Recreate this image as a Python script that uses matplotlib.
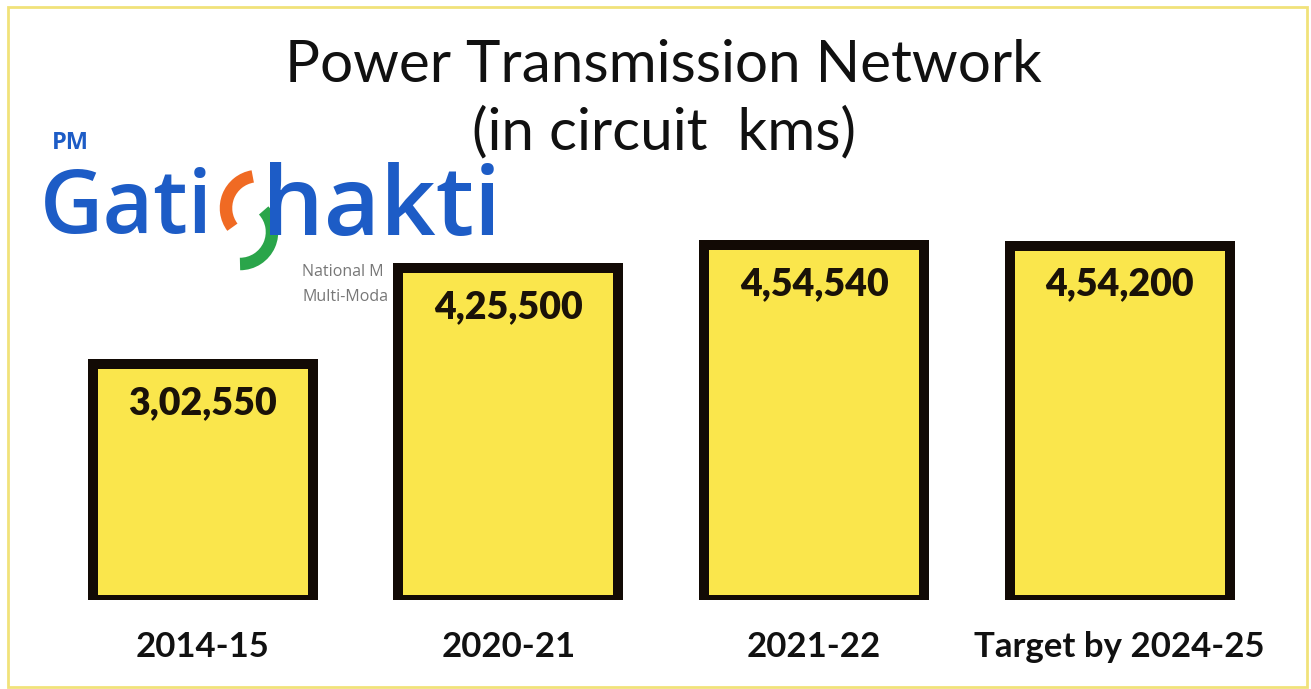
import matplotlib.pyplot as plt
from matplotlib.patches import Rectangle, Arc

years = ["2014-15", "2020-21", "2021-22", "Target by 2024-25"]
circuit_kms = [302550, 425500, 454540, 454200]
value_labels = ["3,02,550", "4,25,500", "4,54,540", "4,54,200"]

W, H = 1311, 689
fig = plt.figure(figsize=(W / 100, H / 100), dpi=100)
fig.patch.set_facecolor("white")

# axes placed so bars land where they are in the picture
ax = fig.add_axes([50 / W, 89 / H, 1222.5 / W, 550 / H])
ax.set_facecolor("none")
x = range(len(years))
ax.bar(x, circuit_kms, width=0.72, color="#fae64c", edgecolor="#120a05",
       linewidth=7.2, zorder=2)
ax.set_xlim(-0.5, 3.5)
ax.set_ylim(0, 550 / 0.00078)
for i, lab in enumerate(value_labels):
    ax.annotate(lab, (i, circuit_kms[i]), xytext=(0, -28), textcoords="offset points",
                ha="center", va="center", fontsize=27, fontweight="heavy",
                family="Lato", color="#1a1208", zorder=3)
ax.set_xticks(list(x))
ax.set_xticklabels(years, fontsize=25, fontweight="bold", family="Lato", color="#111")
ax.tick_params(axis="x", length=0, pad=22)
ax.set_yticks([])
for s in ax.spines.values():
    s.set_visible(False)

# title
fig.text(663 / W, 1 - 65 / H, "Power Transmission Network", ha="center", va="center",
         fontsize=42, family="Lato", color="#111")
fig.text(664 / W, 1 - 133 / H, "(in circuit  kms)", ha="center", va="center",
         fontsize=42, family="Lato", color="#111")

# PM Gati Shakti logo
blue = "#1d5cc6"
fig.text(52 / W, 1 - 143 / H, "PM", ha="left", va="center", fontsize=17,
         fontweight="bold", family="Open Sans", color=blue)
fig.text(40 / W, 1 - 210 / H, "Gati", ha="left", va="center", fontsize=63,
         fontweight="semibold", family="Open Sans", color=blue)
fig.text(262 / W, 1 - 210 / H, "hakti", ha="left", va="center", fontsize=70,
         fontweight="semibold", family="Open Sans", color=blue)
fig.add_artist(Arc((258 / W, 1 - 208 / H), 64 / W, 64 / H, theta1=95, theta2=235,
                   color="#f06a23", linewidth=9, transform=fig.transFigure))
fig.add_artist(Arc((240 / W, 1 - 232 / H), 64 / W, 64 / H, theta1=270, theta2=60,
                   color="#2aa54a", linewidth=9, transform=fig.transFigure))
# only the start of the tagline shows beside the second bar
fig.text(302 / W, 1 - 272 / H, "National M", ha="left", va="center",
         fontsize=11.5, family="Open Sans", color="#777", zorder=-1)
fig.text(302 / W, 1 - 297 / H, "Multi-Moda", ha="left", va="center",
         fontsize=11.5, family="Open Sans", color="#777", zorder=-1)

# thin yellow frame
fig.add_artist(Rectangle((8 / W, 2 / H), 1299 / W, 680 / H, fill=False,
                         edgecolor="#f1e27a", linewidth=2, transform=fig.transFigure))

fig.savefig("out.png", dpi=100)
